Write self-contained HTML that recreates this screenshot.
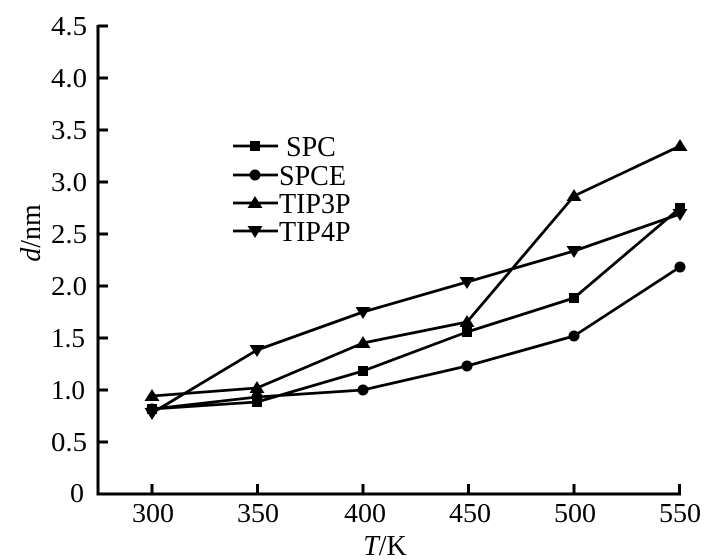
<!DOCTYPE html>
<html><head><meta charset="utf-8"><style>
html,body{margin:0;padding:0;background:#fff;}
svg{display:block;}
text{font-family:"Liberation Serif","Times New Roman",serif;fill:#000;}
</style></head><body>
<svg width="714" height="560" viewBox="0 0 714 560" xmlns="http://www.w3.org/2000/svg">
<g stroke="#000" stroke-width="3" fill="none">
<line x1="98" y1="25" x2="98" y2="495"/>
<line x1="96.5" y1="494" x2="681" y2="494"/>
<line x1="98" y1="26" x2="108" y2="26"/>
<line x1="98" y1="78" x2="108" y2="78"/>
<line x1="98" y1="130" x2="108" y2="130"/>
<line x1="98" y1="182" x2="108" y2="182"/>
<line x1="98" y1="234" x2="108" y2="234"/>
<line x1="98" y1="286" x2="108" y2="286"/>
<line x1="98" y1="338" x2="108" y2="338"/>
<line x1="98" y1="390" x2="108" y2="390"/>
<line x1="98" y1="442" x2="108" y2="442"/>
<line x1="152" y1="494" x2="152" y2="484"/>
<line x1="257.5" y1="494" x2="257.5" y2="484"/>
<line x1="363" y1="494" x2="363" y2="484"/>
<line x1="468.5" y1="494" x2="468.5" y2="484"/>
<line x1="574" y1="494" x2="574" y2="484"/>
<line x1="679.5" y1="494" x2="679.5" y2="484"/>
</g>
<g font-size="27" text-anchor="end">
<text x="87" y="35" textLength="36" lengthAdjust="spacingAndGlyphs">4.5</text>
<text x="87" y="87" textLength="36" lengthAdjust="spacingAndGlyphs">4.0</text>
<text x="87" y="139" textLength="36" lengthAdjust="spacingAndGlyphs">3.5</text>
<text x="87" y="191" textLength="36" lengthAdjust="spacingAndGlyphs">3.0</text>
<text x="87" y="243" textLength="36" lengthAdjust="spacingAndGlyphs">2.5</text>
<text x="87" y="295" textLength="36" lengthAdjust="spacingAndGlyphs">2.0</text>
<text x="85" y="347" textLength="34" lengthAdjust="spacingAndGlyphs">1.5</text>
<text x="85" y="399" textLength="34" lengthAdjust="spacingAndGlyphs">1.0</text>
<text x="87" y="451" textLength="36" lengthAdjust="spacingAndGlyphs">0.5</text>
<text x="84" y="502" textLength="14" lengthAdjust="spacingAndGlyphs">0</text>
</g>
<g font-size="27" text-anchor="middle">
<text x="153" y="522" textLength="42" lengthAdjust="spacingAndGlyphs">300</text>
<text x="258" y="522" textLength="42" lengthAdjust="spacingAndGlyphs">350</text>
<text x="365" y="522" textLength="42" lengthAdjust="spacingAndGlyphs">400</text>
<text x="470" y="522" textLength="42" lengthAdjust="spacingAndGlyphs">450</text>
<text x="575" y="522" textLength="42" lengthAdjust="spacingAndGlyphs">500</text>
<text x="680" y="522" textLength="42" lengthAdjust="spacingAndGlyphs">550</text>
</g>
<text x="385" y="555" font-size="28" text-anchor="middle"><tspan font-style="italic">T</tspan>/K</text>
<text transform="translate(40,233) rotate(-90)" font-size="28" text-anchor="middle"><tspan font-style="italic">d</tspan>/nm</text>

<g stroke="#000" stroke-width="2.8" fill="none" stroke-linejoin="round">
<polyline points="152,409 257,402 363,371 467,332 574,298 680,208"/>
<polyline points="152,409 257,397 363,390 467,366 574,336 680,267"/>
<polyline points="152,396 257,388 363,343 467,322 574,196 680,146"/>
<polyline points="152,413 257,350 363,312 467,282 574,251 680,214"/>
</g>
<g fill="#000">
<rect x="147" y="404" width="10" height="10"/>
<rect x="252" y="397" width="10" height="10"/>
<rect x="358" y="366" width="10" height="10"/>
<rect x="462" y="327" width="10" height="10"/>
<rect x="569" y="293" width="10" height="10"/>
<rect x="675" y="203" width="10" height="10"/>
<circle cx="152" cy="409" r="5.5"/>
<circle cx="257" cy="397" r="5.5"/>
<circle cx="363" cy="390" r="5.5"/>
<circle cx="467" cy="366" r="5.5"/>
<circle cx="574" cy="336" r="5.5"/>
<circle cx="680" cy="267" r="5.5"/>
<polygon points="152,389 144.5,401 159.5,401"/>
<polygon points="257,381 249.5,393 264.5,393"/>
<polygon points="363,336 355.5,348 370.5,348"/>
<polygon points="467,315 459.5,327 474.5,327"/>
<polygon points="574,189 566.5,201 581.5,201"/>
<polygon points="680,139 672.5,151 687.5,151"/>
<polygon points="152,420 144.5,408 159.5,408"/>
<polygon points="257,357 249.5,345 264.5,345"/>
<polygon points="363,319 355.5,307 370.5,307"/>
<polygon points="467,289 459.5,277 474.5,277"/>
<polygon points="574,258 566.5,246 581.5,246"/>
<polygon points="680,221 672.5,209 687.5,209"/>
</g>

<g stroke="#000" stroke-width="2.8">
<line x1="233" y1="146" x2="278" y2="146"/>
<line x1="233" y1="175" x2="278" y2="175"/>
<line x1="233" y1="203" x2="278" y2="203"/>
<line x1="233" y1="231" x2="278" y2="231"/>
</g>
<g fill="#000">
<rect x="250" y="141" width="10" height="10"/>
<circle cx="255" cy="175" r="5.5"/>
<polygon points="255,196 247.5,208 262.5,208"/>
<polygon points="255,238 247.5,226 262.5,226"/>
</g>
<g font-size="28">
<text x="286" y="156">SPC</text>
<text x="279" y="185">SPCE</text>
<text x="279" y="213">TIP3P</text>
<text x="279" y="241">TIP4P</text>
</g>
</svg>
</body></html>
